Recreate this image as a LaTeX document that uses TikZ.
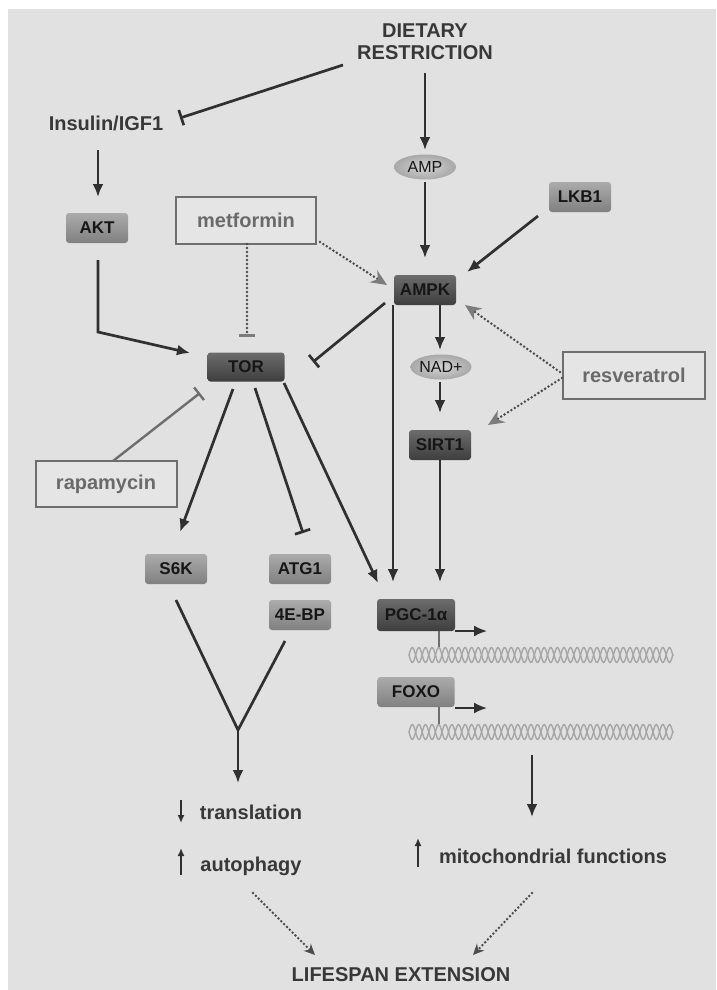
\documentclass[tikz,border=0pt]{standalone}
\usepackage{fontspec}
\setmainfont{Liberation Sans}
\usetikzlibrary{arrows.meta,calc,shapes.geometric}

\definecolor{bgcol}{HTML}{E1E1E1}
\definecolor{txtcol}{HTML}{383838}
\definecolor{boxtxt}{HTML}{161616}
\definecolor{linecol}{HTML}{303030}
\definecolor{drugcol}{HTML}{6E6E6E}
\definecolor{drugtxt}{HTML}{6A6A6A}
\definecolor{drugfill}{HTML}{E5E5E5}
\definecolor{dottcol}{HTML}{4C4C4C}
\definecolor{tipgray}{HTML}{7C7C7C}
\definecolor{dktop}{HTML}{6C6C6C}
\definecolor{dkbot}{HTML}{3E3E3E}
\definecolor{mdtop}{HTML}{ABABAB}
\definecolor{mdbot}{HTML}{808080}
\definecolor{ovin}{HTML}{D4D4D4}
\definecolor{ovout}{HTML}{A8A8A8}
\definecolor{dnacol}{HTML}{A6A6A6}

\tikzset{
    lbl/.style={text=txtcol, font=\bfseries\fontsize{20}{22}\selectfont, align=center, inner sep=0pt},
    drug/.style={draw=drugcol, line width=2pt, fill=drugfill, text=drugtxt,
        font=\bfseries\fontsize{20}{22}\selectfont, minimum width=141pt, minimum height=46pt, inner sep=0pt},
    dkbox/.style={rounded corners=3pt, top color=dktop, bottom color=dkbot, text=boxtxt,
        font=\bfseries\fontsize{17}{17}\selectfont, minimum width=62pt, minimum height=30pt, inner sep=0pt},
    mdbox/.style={dkbox, top color=mdtop, bottom color=mdbot},
    oval/.style={ellipse, inner color=ovin, outer color=ovout, minimum width=62pt, minimum height=25pt,
        inner sep=0pt, text=boxtxt, font=\fontsize{16}{16}\selectfont},
    ln/.style={draw=linecol, line width=2.7pt},
    act/.style={ln, -{Latex[length=13pt,width=11pt]}},
    inh/.style={ln, -{Bar[width=16pt]}},
    dotln/.style={draw=dottcol, line width=2.8pt, line cap=round, dash pattern=on 0pt off 4pt},
    dotact/.style={dotln, -{Stealth[length=16pt,width=14pt,color=tipgray]}},
    dotinh/.style={dotln, -{Bar[width=16pt,color=tipgray]}},
    updn/.style={draw=linecol, line width=2pt, -{Latex[length=8pt,width=7pt]}}
}

\begin{document}
\begin{tikzpicture}[x=1pt,y=-1pt]
    \useasboundingbox (0,0) rectangle (716,990);
    % background
    \fill[white] (0,0) rectangle (716,990);
    \fill[bgcol] (8,9) rectangle (716,990);

    % labels
    \node[lbl] (dr) at (425,42) {DIETARY\\RESTRICTION};
    \node[lbl] (ins) at (106,123) {Insulin/IGF1};
    \node[lbl] (trans) at (251,812) {translation};
    \node[lbl] (auto) at (251,866) {autophagy};
    \node[lbl] (mito) at (553,856) {mitochondrial functions};
    \node[lbl] (life) at (401,975) {LIFESPAN EXTENSION};

    % drugs
    \node[drug, minimum width=140pt, minimum height=47pt] (met) at (246,220.5) {metformin};
    \node[drug, minimum width=142pt, minimum height=47pt] (res) at (634,375.5) {resveratrol};
    \node[drug] (rap) at (106,484) {rapamycin};

    % proteins
    \node[oval] (amp) at (425,167) {AMP};
    \node[oval, minimum width=58pt] (nad) at (441,367) {NAD+};
    \node[mdbox] (akt) at (97,228) {AKT};
    \node[mdbox] (lkb) at (580,197) {LKB1};
    \node[dkbox] (ampk) at (425,290) {AMPK};
    \node[dkbox, minimum width=77pt, minimum height=29pt] (tor) at (246,367) {TOR};
    \node[dkbox] (sirt) at (440,445) {SIRT1};
    \node[mdbox] (s6k) at (176,569) {S6K};
    \node[mdbox] (atg) at (300,569) {ATG1};
    \node[mdbox] (ebp) at (300,615) {4E-BP};

    % DNA strands
    \coordinate (dna1) at (541,655);
    \coordinate (dna2) at (541,732);
    \foreach \yy in {655,732}
        \foreach \s in {1,-1}
            \draw[dnacol, line width=1.4pt] plot[variable=\t, domain=0:264, samples=300, smooth]
                ({409+\t},{\yy+\s*7.5*sin(\t*27.3)});

    % promoters
    \node[dkbox, minimum width=78pt, minimum height=32pt] (pgc) at (416,615) {PGC-1α};
    \node[mdbox, minimum width=77pt] (foxo) at (416,692) {FOXO};
    \draw[ln, line width=1.8pt, draw=drugcol] ($(pgc)+(23,16)$) -- ($(dna1)+(-102,-8)$);
    \draw[act, line width=2pt] ($(pgc)+(39,16)$) -- ($(pgc)+(71,16)$);
    \draw[ln, line width=1.8pt, draw=drugcol] ($(foxo)+(23,15)$) -- ($(dna2)+(-102,-8)$);
    \draw[act, line width=2pt] ($(foxo)+(38.5,16)$) -- ($(foxo)+(71,16)$);

    % upstream
    \draw[inh] ($(dr)+(-82,23)$) -- ($(ins)+(74,-5)$);
    \draw[act] ($(dr)+(0,31)$) -- ($(amp)+(0,-17)$);
    \draw[act] ($(ins)+(-8,27)$) -- ($(akt)+(1,-31)$);
    \draw[act] ($(amp)+(0,15)$) -- ($(ampk)+(0,-32)$);
    \draw[act] ($(lkb)+(-42,19)$) -- ($(ampk)+(42,-18)$);
    \draw[act] ($(akt)+(1,32)$) -- ($(akt)+(1,104)$) -- ($(tor)+(-56,-14)$);
    \draw[inh] ($(ampk)+(-40,13)$) -- ($(tor)+(67,-5)$);
    \draw[inh, draw=drugcol, line width=2.4pt] ($(rap)+(7,-23)$) -- ($(tor)+(-46,26)$);

    % drug actions
    \draw[dotact] ($(met)+(74,21.5)$) -- ($(ampk)+(-38,-5)$);
    \draw[dotinh] ($(met)+(1,23.5)$) -- ($(tor)+(1,-30)$);
    \draw[dotact] ($(res)+(-74,-3.5)$) -- ($(ampk)+(40,15)$);
    \draw[dotact] ($(res)+(-72,2.5)$) -- ($(sirt)+(48,-20)$);

    % AMPK branch
    \draw[act] ($(ampk)+(15,15)$) -- ($(nad)+(-1,-17)$);
    \draw[act] ($(nad)+(-1,15)$) -- ($(sirt)+(0,-32)$);
    \draw[act] ($(ampk)+(-32,15)$) -- ($(pgc)+(-23,-33)$);
    \draw[act] ($(sirt)+(0,15)$) -- ($(pgc)+(24,-33)$);

    % TOR targets
    \draw[act] ($(tor)+(-13,22)$) -- ($(s6k)+(4,-37)$);
    \draw[inh] ($(tor)+(9,21)$) -- ($(atg)+(3,-36)$);
    \draw[act] ($(tor)+(38,16)$) -- ($(pgc)+(-38,-32)$);

    % outputs
    \coordinate (yj) at (238,730);
    \draw[ln] ($(s6k)+(0,31)$) -- (yj);
    \draw[ln] ($(ebp)+(-15,26)$) -- (yj);
    \draw[act] (yj) -- ($(trans)+(-13,-29)$);
    \draw[act] ($(dna2)+(-9,23)$) -- ($(mito)+(-21,-39)$);
    \draw[updn] ($(trans)+(-70,-12)$) -- ($(trans)+(-70,11)$);
    \draw[updn] ($(auto)+(-70,9)$) -- ($(auto)+(-70,-18)$);
    \draw[updn] ($(mito)+(-135,11)$) -- ($(mito)+(-135,-18)$);
    \draw[dotact, -{Stealth[length=11pt,width=10pt,color=dottcol]}] ($(auto)+(2,27)$) -- ($(life)+(-86,-20)$);
    \draw[dotact, -{Stealth[length=11pt,width=10pt,color=dottcol]}] ($(mito)+(-21,37)$) -- ($(life)+(72,-20)$);
\end{tikzpicture}
\end{document}
